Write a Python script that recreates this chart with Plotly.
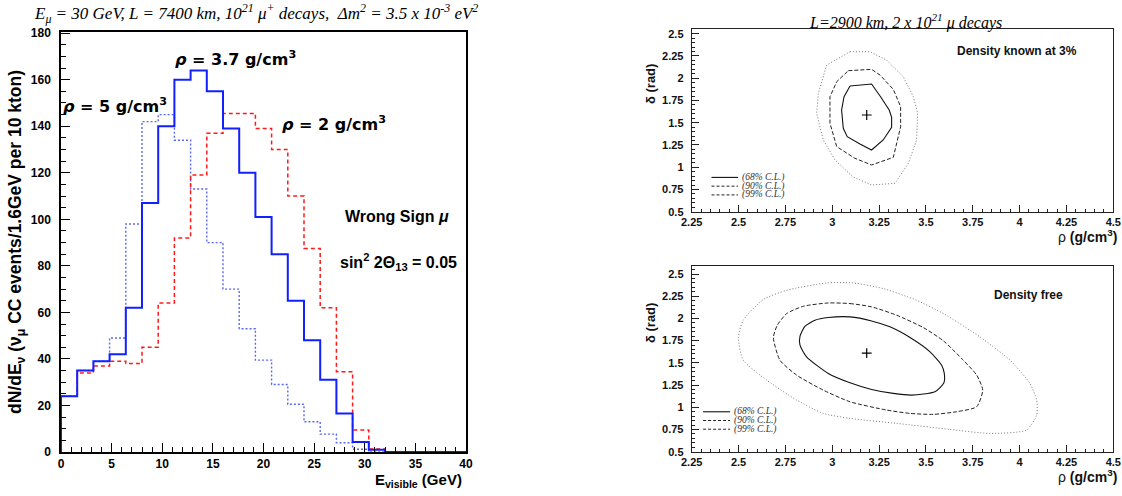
import plotly.graph_objects as go

# ---------------- data: left histogram ----------------
BIN_WIDTH = 1.6
N_BINS = 25
rho37 = [24, 35, 39, 42, 62, 107, 140, 160, 164, 155, 139, 120, 101, 85, 65, 48, 31, 16.5, 4.3, 1, 0, 0, 0, 0, 0]
rho5 = [24, 35, 39, 49, 98, 142, 145, 134, 113, 90, 70, 53, 39.5, 29, 20.5, 13, 7.7, 4, 1.2, 0, 0, 0, 0, 0, 0]
rho2 = [24, 34, 37, 39, 38, 45, 64, 92, 119, 137, 145.5, 145.5, 139, 130, 110, 87.5, 62, 34.5, 9.5, 1.3, 0, 0, 0, 0, 0]

# ---------------- data: right contours ----------------
top68_x = [3.095, 3.21, 3.258, 3.304, 3.317, 3.317, 3.272, 3.21, 3.148, 3.08, 3.059, 3.05, 3.063]
top68_y = [1.912, 1.935, 1.792, 1.643, 1.56, 1.448, 1.306, 1.193, 1.261, 1.343, 1.437, 1.643, 1.792]
top90_x = [3.086, 3.21, 3.255, 3.326, 3.365, 3.365, 3.326, 3.21, 3.121, 3.024, 2.988, 2.988, 3.024]
top90_y = [2.085, 2.1, 2.036, 1.875, 1.68, 1.455, 1.111, 1.025, 1.1, 1.231, 1.493, 1.792, 1.961]
top99_x = [3.095, 3.201, 3.29, 3.379, 3.433, 3.456, 3.45, 3.406, 3.335, 3.21, 3.109, 3.015, 2.952, 2.917, 2.926, 2.97]
top99_y = [2.298, 2.298, 2.204, 2.017, 1.792, 1.605, 1.306, 1.043, 0.819, 0.8, 0.893, 1.081, 1.306, 1.605, 1.83, 2.148]
top_best = (3.184, 1.587)

bot68_x = [2.855, 2.908, 2.979, 3.095, 3.21, 3.308, 3.415, 3.522, 3.584, 3.598, 3.596, 3.548, 3.424, 3.326, 3.21, 3.095, 2.979, 2.863, 2.828, 2.828]
bot68_y = [1.912, 1.98, 2.01, 2.017, 1.972, 1.905, 1.785, 1.624, 1.474, 1.381, 1.276, 1.174, 1.137, 1.156, 1.201, 1.276, 1.381, 1.568, 1.699, 1.8]
bot90_x = [2.979, 3.095, 3.21, 3.344, 3.486, 3.593, 3.699, 3.771, 3.803, 3.771, 3.664, 3.539, 3.415, 3.29, 3.095, 2.952, 2.81, 2.721, 2.686, 2.707, 2.757, 2.846]
bot90_y = [2.174, 2.167, 2.13, 2.036, 1.897, 1.748, 1.53, 1.362, 1.193, 1.006, 0.95, 0.92, 0.931, 0.969, 1.062, 1.193, 1.362, 1.53, 1.785, 1.924, 2.055, 2.137]
bot99_x = [2.632, 2.757, 2.97, 3.112, 3.272, 3.45, 3.593, 3.788, 3.949, 4.055, 4.091, 4.091, 4.037, 3.842, 3.628, 3.344, 3.095, 2.952, 2.81, 2.65, 2.525, 2.499, 2.525]
bot99_y = [2.212, 2.317, 2.399, 2.399, 2.336, 2.204, 2.055, 1.792, 1.53, 1.268, 1.081, 0.912, 0.744, 0.706, 0.751, 0.819, 0.875, 0.931, 1.081, 1.306, 1.53, 1.785, 1.98]
bot_best = (3.184, 1.61)

cl_labels = ["(68% C.L.)", "(90% C.L.)", "(99% C.L.)"]

edges = [round(i * BIN_WIDTH, 2) for i in range(N_BINS + 1)]


def steps(vals):
    xs = [edges[0]] + edges
    ys = [0] + list(vals) + [vals[-1]]
    return xs, ys


def closed(xs, ys):
    return list(xs) + [xs[0]], list(ys) + [ys[0]]


fig = go.Figure()

# histograms
for vals, color, dash, width in [
    (rho5, "#5a66ff", "2px,2px", 1.4),
    (rho2, "#ff1a1a", "4px,3px", 1.5),
    (rho37, "#1020ff", "solid", 2.0),
]:
    xs, ys = steps(vals)
    fig.add_trace(go.Scatter(x=xs, y=ys, mode="lines", line=dict(color=color, dash=dash, width=width, shape="hv"),
                             xaxis="x", yaxis="y", showlegend=False, hoverinfo="skip"))

# contours
contour_sets = [
    ("x2", "y2", [(top68_x, top68_y), (top90_x, top90_y), (top99_x, top99_y)], top_best, False),
    ("x3", "y3", [(bot68_x, bot68_y), (bot90_x, bot90_y), (bot99_x, bot99_y)], bot_best, True),
]
styles = [("#111111", "solid", 1.1), ("#222222", "4px,2px", 1.0), ("#777777", "1px,2px", 1.0)]
for xa, ya, cs, best, smooth in contour_sets:
    for (cx, cy), (col, dsh, w) in zip(cs, styles):
        px, py = closed(cx, cy)
        fig.add_trace(go.Scatter(x=px, y=py, mode="lines",
                                 line=dict(color=col, dash=dsh, width=w,
                                           shape="spline" if smooth else "linear",
                                           smoothing=0.6 if smooth else None),
                                 xaxis=xa, yaxis=ya, showlegend=False, hoverinfo="skip"))
    fig.add_trace(go.Scatter(x=[best[0]], y=[best[1]], mode="markers",
                             marker=dict(symbol="cross-thin", size=7, line=dict(color="black", width=1.2)),
                             xaxis=xa, yaxis=ya, showlegend=False, hoverinfo="skip"))

W, H = 1122, 496
bold_tick = dict(family="Liberation Sans, Arial, sans-serif", size=12, color="black", weight="bold")
bold_tick_r = dict(family="Liberation Sans, Arial, sans-serif", size=11, color="#111", weight="bold")

left_x_dom = [61 / W, 466 / W]
left_y_dom = [(H - 452) / H, (H - 32) / H]
right_x_dom = [691.7 / W, 1113.3 / W]
top_y_dom = [(H - 211.7) / H, (H - 29.3) / H]
bot_y_dom = [(H - 451.7) / H, (H - 266) / H]

common_left = dict(showgrid=False, zeroline=False, showline=True, linecolor="black", linewidth=1.5,
                   mirror=True, ticks="inside", tickcolor="black", tickwidth=1, tickfont=bold_tick,
                   automargin=False)
common_right = dict(showgrid=False, zeroline=False, showline=True, linecolor="#222", linewidth=1,
                    mirror=True, ticks="inside", tickcolor="#222", tickwidth=1, tickfont=bold_tick_r,
                    automargin=False)

fig.update_layout(
    width=W, height=H, margin=dict(l=0, r=0, t=0, b=0, autoexpand=False),
    paper_bgcolor="white", plot_bgcolor="white", showlegend=False,
    xaxis=dict(domain=left_x_dom, anchor="y", range=[0, 40], dtick=5, ticklen=9,
               minor=dict(ticks="inside", dtick=1, ticklen=5, tickcolor="black"), **common_left),
    yaxis=dict(domain=left_y_dom, anchor="x", range=[0, 180.5], dtick=20, ticklen=9,
               ticklabelstandoff=6,
               minor=dict(ticks="inside", dtick=5, ticklen=5, tickcolor="black"), **common_left),
    xaxis2=dict(domain=right_x_dom, anchor="y2", range=[2.25, 4.5], dtick=0.25, ticklen=7,
                minor=dict(ticks="inside", dtick=0.05, ticklen=3, tickcolor="#222"), **common_right),
    yaxis2=dict(domain=top_y_dom, anchor="x2", range=[0.5, 2.55], dtick=0.25, ticklen=7,
                ticklabelstandoff=5,
                minor=dict(ticks="inside", dtick=0.05, ticklen=3, tickcolor="#222"), **common_right),
    xaxis3=dict(domain=right_x_dom, anchor="y3", range=[2.25, 4.5], dtick=0.25, ticklen=7,
                minor=dict(ticks="inside", dtick=0.05, ticklen=3, tickcolor="#222"), **common_right),
    yaxis3=dict(domain=bot_y_dom, anchor="x3", range=[0.5, 2.59], dtick=0.25, ticklen=7,
                ticklabelstandoff=5,
                minor=dict(ticks="inside", dtick=0.05, ticklen=3, tickcolor="#222"), **common_right),
)

serif_it = dict(family="Liberation Serif, Times New Roman, serif", color="black")
ann_font = dict(family="Liberation Sans, Arial, sans-serif", size=16, color="black", weight="bold")
rho_font = dict(family="DejaVu Sans, sans-serif", size=16, color="black", weight="bold")
ann = []
# left title
ann.append(dict(text="<i>E<sub>μ</sub> = 30 GeV, L = 7400 km, 10<sup>21</sup> μ<sup>+</sup> decays,  Δm<sup>2</sup> = 3.5 x 10<sup>-3</sup> eV<sup>2</sup></i>",
                x=256 / W, y=(H - 13) / H, xref="paper", yref="paper", showarrow=False,
                font=dict(size=17, **serif_it), xanchor="center", yanchor="middle"))
# left y title
ann.append(dict(text="<b>dN/dE<sub>ν</sub> (ν<sub>μ</sub> CC events/1.6GeV per 10 kton)</b>",
                x=16 / W, y=(H - 242) / H, xref="paper", yref="paper", showarrow=False, textangle=-90,
                font=dict(family="Liberation Sans, Arial, sans-serif", size=17.5, color="black"),
                xanchor="center", yanchor="middle"))
# left x title
ann.append(dict(text="<b>E<sub>visible</sub> (GeV)</b>", x=464 / W, y=(H - 480) / H, xref="paper", yref="paper",
                showarrow=False, font=dict(family="Liberation Sans, Arial, sans-serif", size=15, color="black"),
                xanchor="right", yanchor="middle"))
# in-plot labels
for txt, xv, yv, fnt in [
    ("<i>ρ</i> = 3.7 g/cm<sup>3</sup>", 17.2, 169, rho_font),
    ("<i>ρ</i> = 5 g/cm<sup>3</sup>", 5.3, 149, rho_font),
    ("<i>ρ</i> = 2 g/cm<sup>3</sup>", 27.0, 141, rho_font),
    ("Wrong Sign <i>μ</i>", 33.2, 101.4, ann_font),
    ("sin<sup>2</sup> 2Θ<sub>13</sub> = 0.05", 33.3, 81.6, ann_font),
]:
    ann.append(dict(text=txt, x=xv, y=yv, xref="x", yref="y", showarrow=False, font=fnt,
                    xanchor="center", yanchor="middle"))

# right title
ann.append(dict(text="<i>L=2900 km, 2 x 10<sup>21</sup> μ decays</i>", x=905 / W, y=(H - 22) / H,
                xref="paper", yref="paper", showarrow=False, font=dict(size=16, **serif_it),
                xanchor="center", yanchor="middle"))
# panel labels
ann.append(dict(text="<b>Density known at 3%</b>", x=3.986, y=2.306, xref="x2", yref="y2", showarrow=False,
                font=dict(family="Liberation Sans, Arial, sans-serif", size=12, color="#111")))
ann.append(dict(text="<b>Density free</b>", x=4.046, y=2.269, xref="x3", yref="y3", showarrow=False,
                font=dict(family="Liberation Sans, Arial, sans-serif", size=12, color="#111")))
# right axis titles
for yc in [(H - 84) / H, (H - 323) / H]:
    ann.append(dict(text="<b>δ (rad)</b>", x=651 / W, y=yc, xref="paper", yref="paper", showarrow=False,
                    textangle=-90, font=dict(family="Liberation Sans, Arial, sans-serif", size=13, color="#111"),
                    xanchor="center", yanchor="middle"))
for yc in [(H - 236) / H, (H - 476) / H]:
    ann.append(dict(text="ρ <b>(g/cm<sup>3</sup>)</b>", x=1119 / W, y=yc, xref="paper", yref="paper",
                    showarrow=False, font=dict(family="Liberation Sans, Arial, sans-serif", size=14, color="#111"),
                    xanchor="right", yanchor="middle"))

# CL legends (line samples + labels)
shapes = []
for xa, ya, x0, x1, xt, rows in [
    ("x2", "y2", 0.047, 0.110, 0.118, [0.188, 0.140, 0.092]),
    ("x3", "y3", 0.027, 0.091, 0.099, [0.215, 0.168, 0.121]),
]:
    for lbl, ry, (col, dsh, w) in zip(cl_labels, rows, [("#111", "solid", 1.1), ("#222", "3px,2px", 1.0), ("#222", "3px,2px", 1.0)]):
        shapes.append(dict(type="line", xref=f"{xa} domain", yref=f"{ya} domain", x0=x0, x1=x1, y0=ry, y1=ry,
                           line=dict(color=col, dash=dsh, width=w)))
        ann.append(dict(text=f"<i>{lbl}</i>", x=xt, y=ry, xref=f"{xa} domain", yref=f"{ya} domain",
                        showarrow=False, font=dict(size=9.5, family="Liberation Serif, Times New Roman, serif", color="#333"),
                        xanchor="left", yanchor="middle", borderpad=0))

fig.update_layout(annotations=ann, shapes=shapes)
fig.write_html("out.html")
